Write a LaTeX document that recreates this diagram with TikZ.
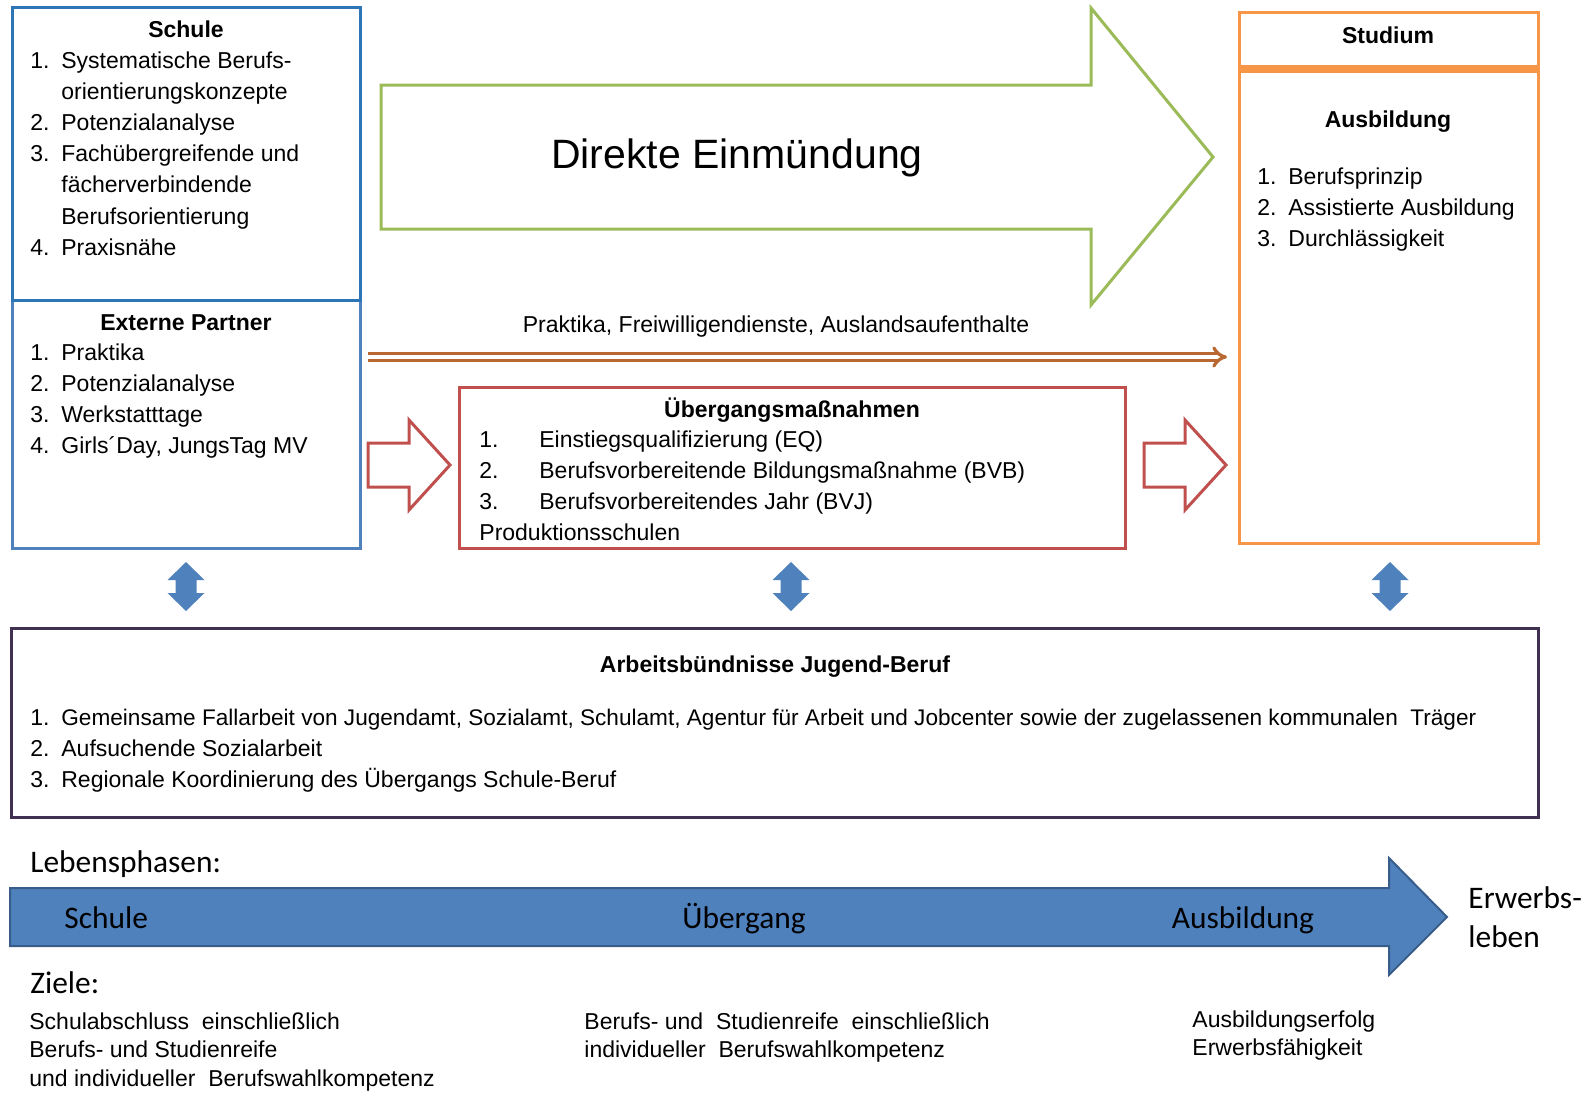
\documentclass[tikz,border=0pt]{standalone}
\usepackage{fontspec}
\setmainfont{Liberation Sans}
\newfontfamily\calibri{Carlito}
\usetikzlibrary{arrows.meta,fit}

\definecolor{schulblau}{RGB}{46,117,182}
\definecolor{partnerblau}{RGB}{79,129,189}
\definecolor{gruen}{RGB}{155,187,89}
\definecolor{rot}{RGB}{192,80,77}
\definecolor{orange}{RGB}{247,150,70}
\definecolor{lila}{RGB}{64,49,82}
\definecolor{braun}{RGB}{184,104,48}
\definecolor{pfeilblau}{RGB}{79,129,189}
\definecolor{pfeilrand}{RGB}{56,93,138}

\tikzset{
  box/.style={draw, line width=1.5pt, inner sep=0pt},
  titel/.style={inner sep=0pt, anchor=base, font=\bfseries\fontsize{11.5}{15.6}\selectfont},
  liste/.style={inner sep=0pt, anchor=base west, font=\fontsize{11.5}{15.6}\selectfont},
  ziel/.style={inner sep=0pt, anchor=base west, font=\fontsize{11.5}{14.25}\selectfont},
  phase/.style={inner sep=0pt, anchor=base west, font=\calibri\fontsize{15.7}{19.5}\selectfont},
  blockpfeil/.style={line width=1.5pt, line join=miter},
  praxis/.style={draw=braun, double=white, double distance=1.8pt, line width=1.6pt, -{Implies[length=6pt, width=11pt]}},
}

\begin{document}
\begin{tikzpicture}[x=0.5pt,y=-0.5pt]
  \useasboundingbox (0,0) rectangle (1582,1092);

  % Schule und externe Partner
  \node[box, draw=partnerblau, fit={(12,300) (360,548)}] (partner) {};
  \node[box, draw=schulblau, fit={(12,7) (360,300)}] (schule) {};
  \node[titel] (schultitel) at (186,37) {Schule};
  \node[liste] (schulliste) at (30,68) {\begin{tabular}[t]{@{}p{15.5pt}@{}l@{}}
    1. & Systematische Berufs-\\
       & orientierungskonzepte\\
    2. & Potenzialanalyse\\
    3. & Fachübergreifende und\\
       & fächerverbindende\\
       & Berufsorientierung\\
    4. & Praxisnähe
  \end{tabular}};
  \node[titel] (partnertitel) at (186,330) {Externe Partner};
  \node[liste] (partnerliste) at (30,360) {\begin{tabular}[t]{@{}p{15.5pt}@{}l@{}}
    1. & Praktika\\
    2. & Potenzialanalyse\\
    3. & Werkstatttage\\
    4. & Girls´Day, JungsTag MV
  \end{tabular}};

  % Direkte Einmuendung
  \draw[blockpfeil, gruen] (381,85) -- (1091,85) -- (1091,8) -- (1213,157) -- (1091,305) -- (1091,229) -- (381,229) -- cycle;
  \node[inner sep=0pt, anchor=base, font=\fontsize{20.5}{24}\selectfont] (direkt) at (737,168) {Direkte Einmündung};

  % Studium und Ausbildung
  \node[box, draw=orange, fit={(1239,67) (1538,543)}] (ausbildung) {};
  \node[box, draw=orange, fit={(1239,12) (1538,67)}] (studium) {};
  \draw[orange, line width=4pt] (studium.south west) -- (studium.south east);
  \node[titel] (studiumtitel) at (1388,43) {Studium};
  \node[titel] (ausbildungtitel) at (1388,127) {Ausbildung};
  \node[liste] (ausbildungliste) at (1257,184) {\begin{tabular}[t]{@{}p{15.5pt}@{}l@{}}
    1. & Berufsprinzip\\
    2. & Assistierte Ausbildung\\
    3. & Durchlässigkeit
  \end{tabular}};

  % Praktika
  \coordinate (praxstart) at (368,357);
  \coordinate (praxende) at (1227,357);
  \draw[praxis] (praxstart) -- (praxende);
  \node[inner sep=0pt, anchor=base, font=\fontsize{11.5}{15.6}\selectfont] (praxtext) at (776,332) {Praktika, Freiwilligendienste, Auslandsaufenthalte};

  % Uebergangsmassnahmen
  \node[box, draw=rot, fit={(459,387) (1125,548)}] (uebergang) {};
  \node[titel] (uebergangtitel) at (792,417) {Übergangsmaßnahmen};
  \node[liste] (uebergangliste) at (479,447) {\begin{tabular}[t]{@{}p{30pt}@{}l@{}}
    1. & Einstiegsqualifizierung (EQ)\\
    2. & Berufsvorbereitende Bildungsmaßnahme (BVB)\\
    3. & Berufsvorbereitendes Jahr (BVJ)\\
    \multicolumn{2}{@{}l@{}}{Produktionsschulen}
  \end{tabular}};
  \foreach \dx in {0,776}
    \draw[blockpfeil, rot, shift={(\dx,0)}] (368,443) -- (409,443) -- (409,420) -- (450,465) -- (409,510) -- (409,487) -- (368,487) -- cycle;

  % Doppelpfeile
  \foreach \px in {186,791,1390}
    \fill[pfeilblau] (\px,562) -- ++(18.5,18) -- ++(-8,0) -- ++(0,13) -- ++(8,0) -- (\px,611) -- ++(-18.5,-18) -- ++(8,0) -- ++(0,-13) -- ++(-8,0) -- cycle;

  % Arbeitsbuendnisse
  \node[box, draw=lila, fit={(11,628) (1538,817)}] (buendnis) {};
  \node[titel] (buendnistitel) at (775,672) {Arbeitsbündnisse Jugend-Beruf};
  \node[liste] (buendnisliste) at (30,725) {\begin{tabular}[t]{@{}p{15.5pt}@{}l@{}}
    1. & {\fontsize{11.3}{15.6}\selectfont Gemeinsame Fallarbeit von Jugendamt, Sozialamt, Schulamt, Agentur für Arbeit und Jobcenter sowie der zugelassenen kommunalen\ \ Träger}\\
    2. & Aufsuchende Sozialarbeit\\
    3. & Regionale Koordinierung des Übergangs Schule-Beruf
  \end{tabular}};

  % Lebensphasen
  \node[phase] (lebensphasen) at (30,872) {Lebensphasen:};
  \draw[fill=pfeilblau, draw=pfeilrand, line width=1pt] (10,888) -- (1389,888) -- (1389,858) -- (1447,917) -- (1389,975) -- (1389,946) -- (10,946) -- cycle;
  \node[phase] (phschule) at (64,928) {Schule};
  \node[phase, anchor=base] (phuebergang) at (744,928) {Übergang};
  \node[phase, anchor=base] (phausbildung) at (1243,928) {Ausbildung};
  \node[phase] (erwerb) at (1468,908) {\begin{tabular}[t]{@{}l@{}}Erwerbs-\\leben\end{tabular}};

  % Ziele
  \node[phase] (ziele) at (30,993) {Ziele:};
  \node[ziel] (zielschule) at (29,1029) {\begin{tabular}[t]{@{}l@{}}
    Schulabschluss\ \ einschließlich\\
    Berufs- und Studienreife\\
    und individueller\ \ Berufswahlkompetenz
  \end{tabular}};
  \node[ziel] (zieluebergang) at (584,1029) {\begin{tabular}[t]{@{}l@{}}
    Berufs- und\ \ Studienreife\ \ einschließlich\\
    individueller\ \ Berufswahlkompetenz
  \end{tabular}};
  \node[ziel] (zielausbildung) at (1192,1027) {\begin{tabular}[t]{@{}l@{}}
    Ausbildungserfolg\\
    Erwerbsfähigkeit
  \end{tabular}};

\end{tikzpicture}
\end{document}
